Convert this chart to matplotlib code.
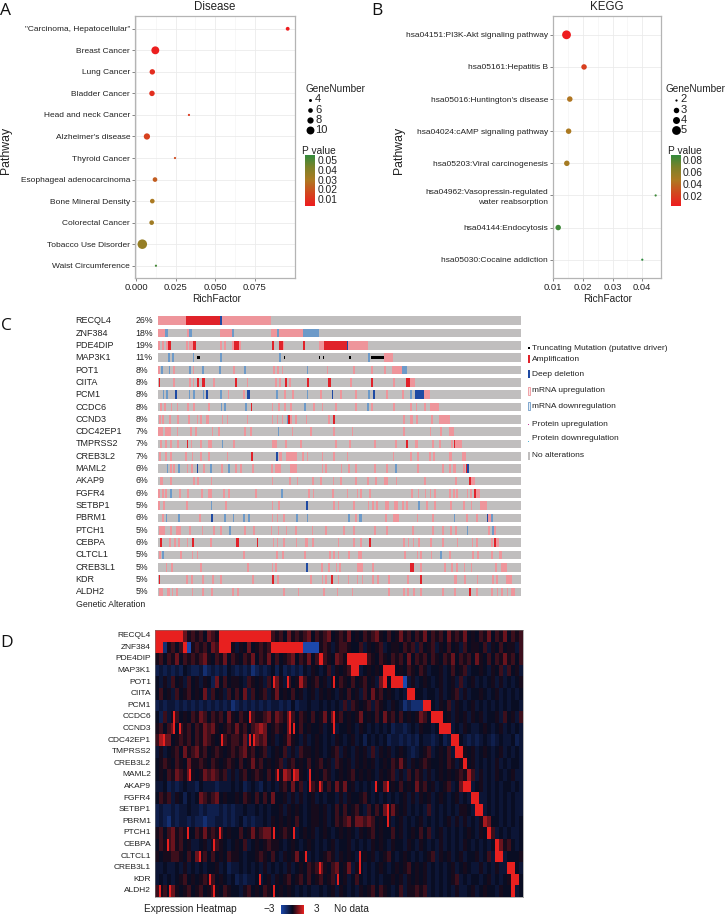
import numpy as np
import matplotlib
matplotlib.use("Agg")
import matplotlib.pyplot as plt
from matplotlib.colors import LinearSegmentedColormap
from matplotlib.patches import Rectangle

plt.rcParams['font.family'] = ['Liberation Sans', 'DejaVu Sans']

W, H = 726, 918

# ---------- Panel A data ----------
disease_terms = ['"Carcinoma, Hepatocellular"', 'Breast Cancer', 'Lung Cancer', 'Bladder Cancer',
                 'Head and neck Cancer', "Alzheimer's disease", 'Thyroid Cancer',
                 'Esophageal adenocarcinoma', 'Bone Mineral Density', 'Colorectal Cancer',
                 'Tobacco Use Disorder', 'Waist Circumference']
disease_rich = [0.0956, 0.0122, 0.0103, 0.0101, 0.0334, 0.0069, 0.0246, 0.0120, 0.0103, 0.0099, 0.0040, 0.0126]
disease_p = [0.003, 0.004, 0.008, 0.009, 0.012, 0.014, 0.017, 0.022, 0.030, 0.033, 0.036, 0.052]
disease_genes = [5, 10, 7, 7, 3, 8, 3, 6, 6, 6, 12, 3]

# ---------- Panel B data ----------
kegg_terms = ['hsa04151:PI3K-Akt signaling pathway', 'hsa05161:Hepatitis B', "hsa05016:Huntington's disease",
              'hsa04024:cAMP signaling pathway', 'hsa05203:Viral carcinogenesis',
              'hsa04962:Vasopressin-regulated\nwater reabsorption', 'hsa04144:Endocytosis',
              'hsa05030:Cocaine addiction']
kegg_rich = [0.0145, 0.0204, 0.0156, 0.0152, 0.0146, 0.0445, 0.0117, 0.0400]
kegg_p = [0.002, 0.020, 0.045, 0.047, 0.050, 0.085, 0.085, 0.090]
kegg_genes = [5, 3, 3, 3, 3, 2, 3, 2]

# ---------- Panel C data (positions along the sample axis; int = thin mark) ----------
genes = ['RECQL4', 'ZNF384', 'PDE4DIP', 'MAP3K1', 'POT1', 'CIITA', 'PCM1', 'CCDC6', 'CCND3', 'CDC42EP1',
         'TMPRSS2', 'CREB3L2', 'MAML2', 'AKAP9', 'FGFR4', 'SETBP1', 'PBRM1', 'PTCH1', 'CEBPA', 'CLTCL1',
         'CREB3L1', 'KDR', 'ALDH2']
altered_pct = [26, 18, 19, 11, 8, 8, 8, 8, 8, 7, 7, 7, 6, 6, 6, 5, 6, 5, 6, 5, 5, 5, 5]

mrna_up = {
 'RECQL4': [(0, 84), (186, 339)],
 'ZNF384': [(0, 21), (86, 94), (186, 221), (339, 356), (362, 436)],
 'PDE4DIP': [(1, 6), 12, (23, 29), 84, (94, 104), 186, 198, (221, 229), (244, 248), (374, 379), (484, 498), (571, 629)],
 'MAP3K1': [(678, 706)],
 'POT1': [(0, 6), 46, 104, 226, 346, 358, 371, 506, 586, 639, (678, 684), (703, 733)],
 'CIITA': [46, 93, 104, 166, 266, (351, 358), 364, 394, 576, 706, (756, 771)],
 'PCM1': [209, 256, 356, 378, 403, 486, 546, 591, 684, 733, (798, 816)],
 'CCDC6': [6, 18, 38, 56, (86, 92), (104, 111), 151, 341, 361, 378, 396, 466, 491, (531, 536), 591, 639, (706, 711), 757, 773, 799, (816, 843)],
 'CCND3': [4, 13, 33, 57, 91, 116, 126, (144, 154), 191, 206, 266, 341, 356, 371, 396, 411, 443, 511, 735, (756, 764), 775, 819, (843, 876)],
 'CDC42EP1': [(0, 16), (20, 39), 56, 96, 111, 161, 181, 259, 276, 401, (456, 463), 526, 581, 735, 815, 846, (874, 889)],
 'TMPRSS2': [6, 21, 36, 58, 98, 126, (151, 161), 226, (341, 356), 381, 426, 531, 573, 648, 711, (771, 780), 822, (844, 850), 879, (891, 913)],
 'CREB3L2': [3, 21, 36, 81, 101, 126, 151, 206, (364, 372), (384, 416), 433, 446, 491, 526, 566, 704, 757, (776, 782), 814, 826, (874, 883), (911, 924)],
 'MAML2': [36, 46, 86, 99, 136, 189, 231, 246, 283, 339, (351, 368), (396, 416), 491, 501, 548, 571, 591, 648, 684, (776, 783), 853, 874, (884, 893), (914, 920)],
 'AKAP9': [(6, 14), 36, 106, 118, 158, 341, 393, 416, 463, 486, 524, 546, 591, (628, 634), (651, 656), (679, 690), 713, (799, 804), (890, 896), (939, 950)],
 'FGFR4': [1, 13, 22, 64, (86, 92), 130, (151, 162), 196, 211, 291, 451, 464, 522, 566, 596, 606, 633, 759, 779, 800, 815, (829, 834), 874, 886, 894, 926, 937, (954, 966)],
 'SETBP1': [1, 16, 84, 201, 341, 361, 526, 539, 586, 629, 642, 654, (682, 693), (708, 720), 733, 744, 804, 829, 877, 916, 938, (966, 987)],
 'PBRM1': [13, 123, 341, 356, 376, 591, 681, (706, 722), 776, 822, 924, 954, (990, 998)],
 'PTCH1': [(2, 20), 36, (54, 68), 93, 131, 166, 186, 259, 286, 338, 359, 383, 412, 461, 501, 556, 586, 648, 684, 763, 823, 853, 876, 891, 991, 1008],
 'CEBPA': [33, 48, 61, (88, 91), 156, 344, 356, 376, 413, (441, 451), 463, 539, 586, 606, 736, 749, (764, 768), 781, 817, (853, 858), 896, 941, 955, 999, (1014, 1023)],
 'CLTCL1': [3, 67, 101, 116, 256, 354, 373, 438, 513, 526, 539, 571, 601, (606, 611), 739, 776, 786, 818, 874, 942, 957, 999, (1023, 1031)],
 'CREB3L1': [23, 40, (126, 131), 268, 341, 351, (488, 494), 511, (533, 538), 543, (596, 606), (606, 614), 643, 787, 858, 879, (895, 900), 917, 938, 1011, (1029, 1046)],
 'KDR': [84, 99, 133, 163, 186, 283, 358, 456, 491, 501, 539, 569, 596, 611, 643, 658, 691, 747, (888, 898), 919, 956, 1003, 1014, (1044, 1061)],
 'ALDH2': [(4, 14), (26, 36), 41, 54, 101, (131, 138), (159, 166), 223, 238, 376, 419, 496, 536, 581, (691, 696), 736, 747, 766, (787, 792), 853, 888, (955, 960), 999, 1016, 1030, 1046, (1059, 1071)],
}
amplification = {
 'RECQL4': [(84, 186)],
 'PDE4DIP': [(29, 38), (104, 114), (229, 244), (341, 348), (362, 374), (436, 441), (498, 568)],
 'CIITA': [2, (118, 124), (133, 141), 231, (381, 386), 448, (509, 519), (638, 646), (744, 756)],
 'CCDC6': [278], 'CCND3': [391, 526],
 'TMPRSS2': [86, 744, (888, 891)],
 'CREB3L2': [(278, 286)], 'MAML2': [(924, 928)], 'AKAP9': [(934, 939)], 'FGFR4': [(949, 954)],
 'CEBPA': [6, 103, (233, 243), 296, 634, (1009, 1014)],
 'CREB3L1': [757, 762], 'KDR': [(3, 7), 343, 519, 787],
 'ALDH2': [934],
}
deep_deletion = {
 'RECQL4': [186],
 'PDE4DIP': [(568, 571)],
 'PCM1': [51, 144, (268, 276), 521, 646, (771, 798)],
 'CREB3L2': [354],
 'MAML2': [116, (928, 934)],
 'SETBP1': [444],
 'PBRM1': [160, 986],
 'CREB3L1': [444],
}
mrna_down = {
 'ZNF384': [(21, 29), (94, 103), (221, 229), (356, 362), (436, 484)],
 'MAP3K1': [31, 42, 104, 186, 364, (631, 637)],
 'POT1': [9, 32, 94, 132, 184, 259, 446, (733, 746)],
 'PCM1': [14, 24, 92, 106, 134, 186, 354, 446, 631, 756],
 'CCDC6': [188, 199, 261, 438, (628, 633)],
 'CCND3': [386],
 'CDC42EP1': [359], 'TMPRSS2': [191],
 'MAML2': [26, 61, 156, 211, 711],
 'FGFR4': [36, 369],
 'SETBP1': [158, 781],
 'PBRM1': [23, 60, 199, 224, (256, 261), 271, 414, 446, 570, 604, 606, 887, (1000, 1005)],
 'PTCH1': [214, 926, 1003],
 'CLTCL1': [13, 846],
}
truncating = {'MAP3K1': [(116, 126), 379, (484, 487), (496, 499), (572, 578), (639, 678)]}

# ---------- Panel D data: expression class per sample bin (digit = row of expr_levels) ----------
expr_levels = [-3.0, -1.8, -1.05, -0.55, -0.15, 0.2, 0.7, 1.3, 2.1, 3.0]
expr_rows = [
 "9999999756 5647659999 9999999996 5647565674 6567456574 5465675464 5756465746 5647565745 4657465746 56",
 "9915646905 6564769995 3547456569 9999999000 0565356654 4635456345 5465636456 3546453645 5463546455 36",
 "5646574656 5675465746 5465746574 6456746574 6965476599 9996546546 5647465646 5465746564 7546465756 46",
 "2323232432 2312323243 2323123234 2423232435 4346354569 9345454999 4546546534 4534645634 4543546364 53",
 "4353645364 5354274645 5436545364 7536458645 6453546546 4564537949 9903534543 4534536345 3434535343 45",
 "4645364564 5473645364 6473645635 7454645345 3545435464 5364756454 3439944344 3534563534 4543453434 34",
 "2323323232 3232323231 2323232323 3232423343 3434343636 5456365435 4312111994 3546354345 3434343434 43",
 "4263564546 5764656475 4654655675 7657646546 4574756454 5745464756 4645457649 9945354535 4534453645 36",
 "5646746564 6576754565 7564678745 6547546454 4534534454 3543434342 3323435443 4999343543 3454345343 43",
 "6877456564 6576545656 6573576745 3457543534 5434354345 3424343423 3232324332 3423994323 2343234334 23",
 "3534564756 7564565456 5675645634 5463536554 5434563543 5453635453 4543234563 4546399545 3454345343 43",
 "4565465475 5654654565 4645756454 5635645464 5645365453 5454534546 5753545654 4546535945 3434353434 43",
 "4546576575 4576765635 3564565464 6587585434 5465345456 4545435456 3536465353 4545456586 3534354345 33",
 "3342323433 2433323334 3423432434 3564746346 5746475745 3434354745 4645475645 3456347993 4534343443 43",
 "4656354243 4765674544 5465464647 4453535345 3434435354 4564343434 3453535453 4543453439 9334343434 33",
 "2322323343 3232223232 3343343434 4535454345 5453464645 6436464757 5453434363 4343435543 9934343434 33",
 "2321323323 2212233232 3423233435 4545464345 5453465675 7767645453 4534345343 4345353534 3587443434 34",
 "5646756544 6575656454 4645756775 4565434545 3454345454 3545645446 4534546463 4534343454 3549634343 34",
 "4656756453 3453565434 5463454565 5434543454 3434534453 4343545435 4435435434 3534343543 4343497564 34",
 "5455665464 7564645465 5434456546 4354574534 3456535454 3454534564 3454343456 3545345344 5346399344 45",
 "3343343534 3434453423 3434343534 3435345465 6754674573 5434345434 5456454534 3434534543 3534353399 43",
 "3434345645 4565645434 2323343453 5456456464 5645634534 6434343445 4535454534 3434563434 4345343459 94",
 "6564754564 5645654654 4356454654 4545434343 3434535434 3545646543 4635565634 3434353345 3454435449 34",
]
# bright single-sample streaks (half-bin index per gene)
expr_streaks = {
 'POT1': [59, 66, 89], 'CCDC6': [9, 47, 67, 89], 'CCND3': [9, 12, 67, 69, 89],
 'CDC42EP1': [4, 33, 47, 49], 'MAML2': [17, 61, 69, 77], 'AKAP9': [77, 82, 110, 116],
 'SETBP1': [116], 'PBRM1': [116], 'PTCH1': [16, 32, 59, 69], 'CEBPA': [6, 29],
 'CLTCL1': [22, 75, 102], 'CREB3L1': [82, 102], 'KDR': [27, 52, 91], 'ALDH2': [2, 7, 29, 59],
}
expr_ticks = ['\u22123', '3']

# ---------- helpers ----------
def add_ax(x0, y0, x1, y1):
    return fig.add_axes([x0 / W, 1 - y1 / H, (x1 - x0) / W, (y1 - y0) / H])

def spans(marks, thin=5):
    out = []
    for m in marks:
        out.append(m if isinstance(m, tuple) else (m, m + thin))
    return out

fig = plt.figure(figsize=(W / 100, H / 100), dpi=100, facecolor='white')
over = fig.add_axes([0, 0, 1, 1])
over.set_xlim(0, W); over.set_ylim(H, 0); over.axis('off'); over.set_zorder(5)
TXT = '#222222'

bubble_cmap = LinearSegmentedColormap.from_list('pv', ['#ee1c1f', '#d2481f', '#ad7a22', '#7c8229', '#2e8b3e'])

def dot_panel(box, terms, rich, pv, gene, xlim, xticks, xfmt, title, size_fn, pmin, pmax, ylab_x):
    ax = add_ax(*box)
    n = len(terms)
    y = np.arange(n)
    ax.set_facecolor('white')
    ax.set_ylim(n - 1 + 0.57, -0.57)
    ax.set_xlim(*xlim)
    ax.set_xticks(xticks)
    ax.set_xticks((np.array(xticks[:-1]) + np.array(xticks[1:])) / 2, minor=True)
    ax.set_xticklabels([xfmt % t for t in xticks], fontsize=6.8, color=TXT)
    ax.set_yticks(y)
    ax.set_yticklabels(terms, fontsize=6.05, color=TXT, linespacing=1.45)
    ax.grid(True, which='major', color='#ebebeb', lw=0.6)
    ax.grid(True, which='minor', axis='x', color='#f2f2f2', lw=0.4)
    ax.set_axisbelow(True)
    ax.tick_params(axis='both', which='major', length=2, width=0.5, color='#555555', pad=1.5)
    ax.tick_params(axis='x', which='minor', length=0)
    for s in ax.spines.values():
        s.set_color('#b4b4b4'); s.set_linewidth(0.9)
    d = size_fn(np.array(gene, float)) * 0.72
    ax.scatter(rich, y, s=d ** 2, c=pv, cmap=bubble_cmap, vmin=pmin, vmax=pmax, linewidths=0, zorder=3)
    over.text((box[0] + box[2]) / 2, 7.5, title, ha='center', va='center', fontsize=8.3, color=TXT)
    over.text((box[0] + box[2]) / 2 + 1, 299, 'RichFactor', ha='center', va='center', fontsize=7.3, color=TXT)
    over.text(ylab_x, 150, 'Pathway', rotation=90, ha='center', va='center', fontsize=8.8, color=TXT)
    return ax

size_a = lambda g: 1.1 * (6 + (g - 3) * 2.22) / 3
size_b = lambda g: 1.1 * np.interp(g, [2, 3, 4, 5], [6, 15, 19, 24]) / 3

dot_panel((135, 16.5, 295.3, 278), disease_terms, disease_rich, disease_p, disease_genes,
          (-0.0006, 0.1004), [0.0, 0.025, 0.05, 0.075], '%.3f', 'Disease', size_a, 0.003, 0.056, 6)
dot_panel((553, 16.5, 660.7, 278), kegg_terms, kegg_rich, kegg_p, kegg_genes,
          (0.00995, 0.0462), [0.01, 0.02, 0.03, 0.04], '%.2f', 'KEGG', size_b, 0.003, 0.09, 399)

def dot_legends(title_x, key_x, txt_x, gene_vals, size_fn, p_title_x, bar_x0, bar_x1, tick_x, pticks, pfmt, pmin, pmax):
    over.text(title_x, 88.5, 'GeneNumber', fontsize=7.2, va='center', color=TXT)
    for g, yy in zip(gene_vals, [99.5, 110, 120, 130]):
        d = size_fn(float(g)) * 0.72
        over.scatter([key_x], [yy], s=d ** 2, c='black', linewidths=0)
        over.text(txt_x, yy, str(g), fontsize=8, va='center', color=TXT)
    over.text(p_title_x, 150.5, 'P value', fontsize=7.3, va='center', color=TXT)
    cb = add_ax(bar_x0, 155.5, bar_x1, 206.5)
    cb.imshow(np.linspace(pmax, pmin, 200)[:, None], aspect='auto', cmap=bubble_cmap, vmin=pmin, vmax=pmax,
              extent=[0, 1, pmin, pmax], origin='upper')
    cb.axis('off')
    for t in pticks:
        yy = 155.5 + (pmax - t) / (pmax - pmin) * 51
        over.text(tick_x, yy, pfmt % t, fontsize=7.4, va='center', color=TXT)

dot_legends(305, 310, 315, [4, 6, 8, 10], size_a, 301.7, 305, 315, 317.7, [0.05, 0.04, 0.03, 0.02, 0.01], '%.2f', 0.003, 0.056)
dot_legends(666, 675.7, 680.7, [2, 3, 4, 5], size_b, 668, 670.7, 680.7, 682.7, [0.08, 0.06, 0.04, 0.02], '%.2f', 0.003, 0.09)

# ---------- Panel C ----------
C_GREY, C_UP, C_AMP, C_DEL, C_DOWN = '#c0bebe', '#ee959b', '#e0222a', '#1f4aa3', '#6d9ac8'
onc = add_ax(158, 320.7 - 6.17, 521.3, 592 + 6.17)
onc.set_xlim(0, 1090); onc.set_ylim(22.5, -0.5); onc.axis('off')
bar_h = 0.71
for i, g in enumerate(genes):
    onc.barh(i, 1090, height=bar_h, color=C_GREY, lw=0)
    for table, col in ((mrna_up, C_UP), (mrna_down, C_DOWN), (amplification, C_AMP), (deep_deletion, C_DEL)):
        sp = spans(table.get(g, []))
        if sp:
            onc.barh([i] * len(sp), [b - a for a, b in sp], left=[a for a, b in sp], height=bar_h, color=col, lw=0)
    sp = spans(truncating.get(g, []), thin=3)
    if sp:
        onc.barh([i] * len(sp), [b - a for a, b in sp], left=[a for a, b in sp], height=bar_h * 0.3, color='black', lw=0)
    yy = 320.7 + 12.33 * i
    over.text(75.7, yy, g, fontsize=6.5, va='center', color=TXT)
    over.text(135.5, yy, '%d%%' % altered_pct[i], fontsize=6.3, va='center', color=TXT)
over.text(75.7, 604.3, 'Genetic Alteration', fontsize=6.3, va='center', color=TXT)

legend_c = [('Truncating Mutation (putative driver)', 348), ('Amplification', 359.3), ('Deep deletion', 374.3),
            ('mRNA upregulation', 391), ('mRNA downregulation', 406), ('Protein upregulation', 424),
            ('Protein downregulation', 439), ('No alterations', 455.7)]
for lab, yy in legend_c:
    over.text(531.5, yy, lab, fontsize=6.0, va='center', color=TXT)
over.add_patch(Rectangle((527.5, 346.8), 2.2, 2.4, fc='black', lw=0))
over.add_patch(Rectangle((527.5, 355.3), 2.2, 8, fc=C_AMP, lw=0))
over.add_patch(Rectangle((527.5, 370.3), 2.2, 8, fc=C_DEL, lw=0))
over.add_patch(Rectangle((527.5, 387), 2.2, 8, fc='#fbe4e5', ec=C_UP, lw=0.6))
over.add_patch(Rectangle((527.5, 402), 2.2, 8, fc='#e6eef6', ec=C_DOWN, lw=0.6))
over.add_patch(Rectangle((527.8, 423.5), 1.6, 1, fc='#c0409a', lw=0))
over.add_patch(Rectangle((527.8, 440.5), 1.6, 1.4, fc='#55b8d8', lw=0))
over.add_patch(Rectangle((527.5, 451.7), 2.2, 8, fc=C_GREY, lw=0))

# ---------- Panel D ----------
heat_cmap = LinearSegmentedColormap.from_list('ex', ['#1c48ab', '#090a1c', '#e8201f'])
rows = [r.replace(' ', '').ljust(92, '4')[:92] for r in expr_rows]
mat = np.repeat(np.array([[expr_levels[int(c)] for c in r] for r in rows]), 2, axis=1)
for g, bins in expr_streaks.items():
    mat[genes.index(g), bins] = expr_levels[9]
hm = add_ax(155.3, 630, 522.7, 896.7)
hm.imshow(mat, aspect='auto', cmap=heat_cmap, vmin=-3, vmax=3, interpolation='nearest')
hm.set_xticks([]); hm.set_yticks([])
for s in hm.spines.values():
    s.set_color('#777777'); s.set_linewidth(0.4)
for i, g in enumerate(genes):
    over.text(151, 630 + 11.595 * (i + 0.5), g, fontsize=6.0, ha='right', va='center', color=TXT)

over.text(144, 909.5, 'Expression Heatmap', fontsize=7.2, va='center', color=TXT)
over.text(275, 909.5, expr_ticks[0], fontsize=7.2, va='center', ha='right', color=TXT)
over.text(316, 909.5, expr_ticks[1], fontsize=7.2, va='center', ha='center', color=TXT)
over.text(334, 909.5, 'No data', fontsize=7.2, va='center', color=TXT)
cb = add_ax(281, 904.5, 304, 914.5)
cb.imshow(np.linspace(-3, 3, 100)[None, :], aspect='auto', cmap=heat_cmap, vmin=-3, vmax=3)
cb.axis('off')

for lab, x, y in (('A', 0.5, 11), ('B', 371.5, 11), ('C', 1, 326), ('D', 0.5, 643)):
    over.text(x, y, lab, fontsize=12.5, va='center', ha='left', color='#111111', family='Open Sans')

fig.savefig('out.png', dpi=100, facecolor='white')
